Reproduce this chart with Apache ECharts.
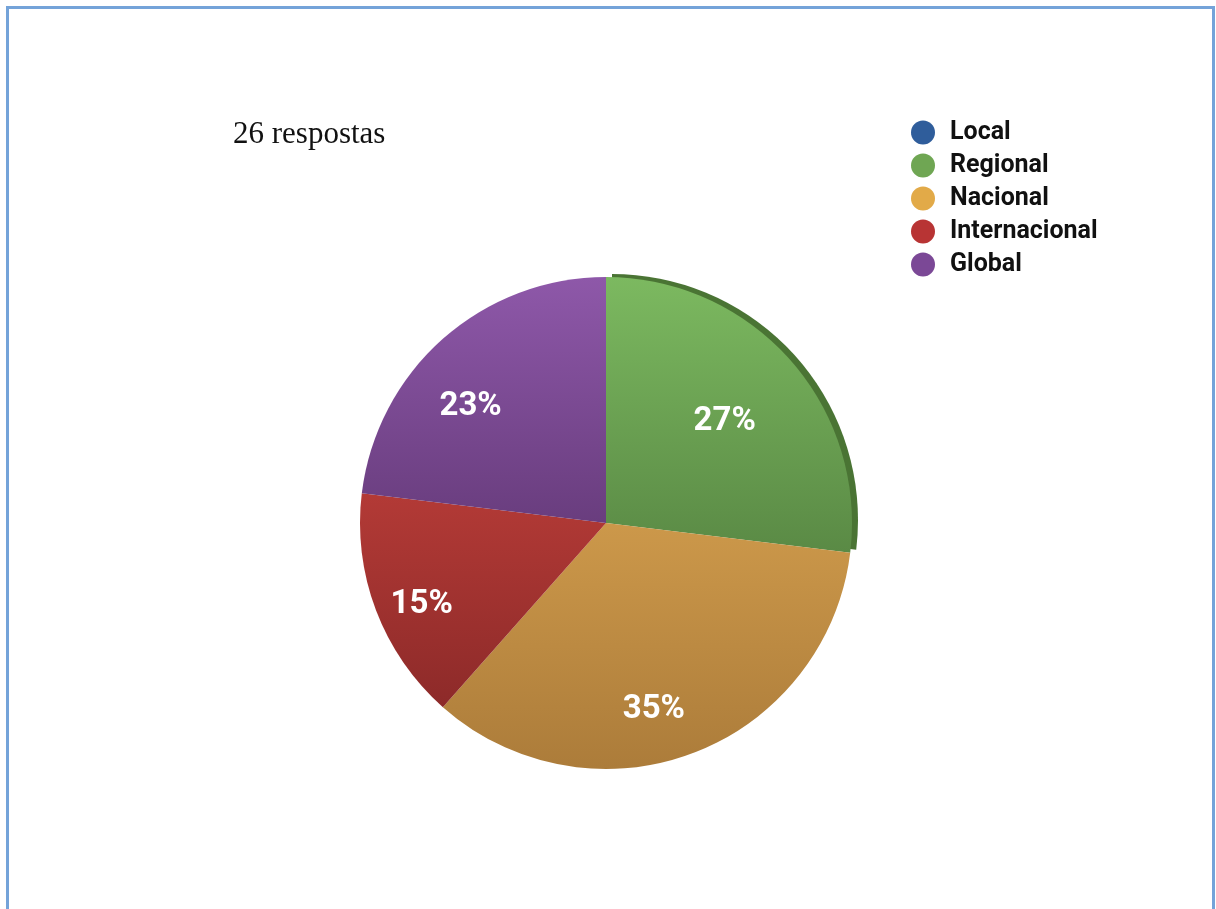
<!DOCTYPE html>
<html>
<head>
<meta charset="utf-8">
<style>
  html, body { margin: 0; padding: 0; background: #ffffff; }
  #chart { width: 1216px; height: 909px; }
</style>
<script src="https://cdn.jsdelivr.net/npm/echarts@6/dist/echarts.min.js"></script>
</head>
<body>
<div id="chart"></div>
<script>
// Survey answers: reach of the activity (26 answers in total)
const titleText = '26 respostas';
const categories = ['Local', 'Regional', 'Nacional', 'Internacional', 'Global'];
const counts = [0, 7, 9, 4, 6];

// legend swatch colours and slice gradients (top -> bottom)
const legendColors = ['#2f5d9b', '#6fa653', '#e2aa48', '#b83434', '#7b4896'];
const sliceTop = ['#3a6db0', '#7cb960', '#cc984a', '#b33a36', '#8e58a9'];
const sliceBottom = ['#2a5088', '#5a8a45', '#ac7c3a', '#8d2a29', '#693d7e'];

const grad = (i) => new echarts.graphic.LinearGradient(0, 0, 0, 1, [
  { offset: 0, color: sliceTop[i] },
  { offset: 1, color: sliceBottom[i] }
]);

const center = [606, 523];
// the tilted disc's apex sits a little lower-left; labels are laid out around it
const labelCenter = [590, 541];
const radius = 246;
const boldFont = 'Roboto, "Liberation Sans", sans-serif';

const sliceData = categories.map((name, i) => ({
  name,
  value: counts[i],
  itemStyle: Object.assign(
    { color: grad(i) },
    name === 'Regional'
      ? { shadowColor: '#4a7434', shadowBlur: 0, shadowOffsetX: 6, shadowOffsetY: -3 }
      : {}
  )
}));

// transparent ring used only to place the percentage labels
const labelData = categories.map((name, i) => ({
  name,
  value: counts[i],
  label: { show: counts[i] > 0 }
}));

const legendData = categories.map((name, i) => ({
  name,
  itemStyle: { color: legendColors[i] }
}));

const chart = echarts.init(document.getElementById('chart'), null, { renderer: 'canvas' });

chart.setOption({
  backgroundColor: '#ffffff',
  animation: false,
  graphic: [
    {
      type: 'rect',
      shape: { x: 7.5, y: 7.5, width: 1206, height: 940 },
      style: { fill: 'none', stroke: '#74a3d9', lineWidth: 3 },
      silent: true,
      z: 0
    },
    {
      type: 'text',
      left: 233,
      top: 119,
      style: {
        text: titleText,
        font: '31px "Liberation Serif", "Times New Roman", serif',
        fill: '#111111'
      }
    }
  ],
  legend: {
    orient: 'vertical',
    left: 911,
    top: 120,
    padding: 0,
    data: legendData,
    icon: 'circle',
    itemWidth: 24,
    itemHeight: 24,
    itemGap: 8,
    selectedMode: false,
    textStyle: {
      fontFamily: boldFont,
      fontWeight: 'bold',
      fontSize: 25,
      lineHeight: 24,
      height: 24,
      color: '#111111',
      padding: [0, 0, 0, 10]
    }
  },
  series: [
    {
      type: 'pie',
      center: center,
      radius: [0, radius],
      startAngle: 90,
      clockwise: true,
      silent: true,
      data: sliceData,
      label: { show: false },
      labelLine: { show: false },
      itemStyle: { borderWidth: 0 },
      emphasis: { disabled: true }
    },
    {
      type: 'pie',
      center: labelCenter,
      radius: [104, 250],
      startAngle: 90,
      clockwise: true,
      silent: true,
      data: labelData,
      percentPrecision: 0,
      itemStyle: { color: 'rgba(0,0,0,0)', borderWidth: 0 },
      label: {
        position: 'inside',
        formatter: '{d}%',
        color: '#ffffff',
        fontFamily: boldFont,
        fontWeight: 'bold',
        fontSize: 33
      },
      labelLine: { show: false },
      emphasis: { disabled: true },
      tooltip: { show: false }
    }
  ]
});
</script>
</body>
</html>
